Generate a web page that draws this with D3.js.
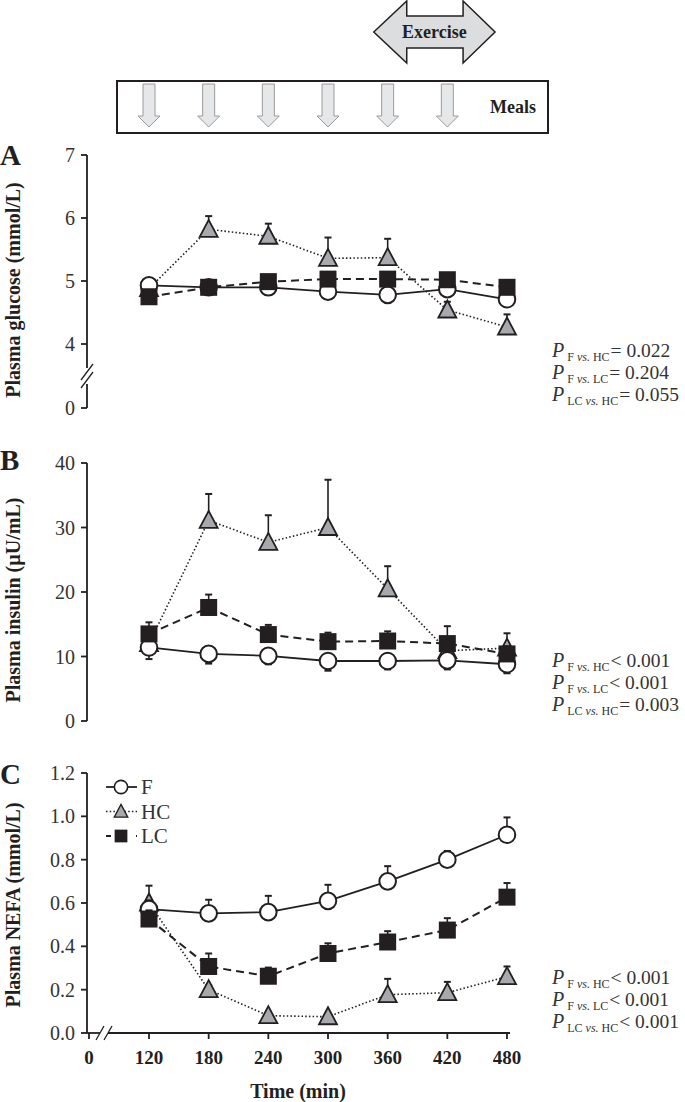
<!DOCTYPE html>
<html>
<head>
<meta charset="utf-8">
<script src="https://cdn.jsdelivr.net/npm/d3@7"></script>
<style>
  body { margin: 0; background: #fff; }
  svg { display: block; font-family: "Liberation Serif", "Times New Roman", serif; }
</style>
</head>
<body>
<div id="chart"></div>
<script>
// time points (min)
const times = [120, 180, 240, 300, 360, 420, 480];
const mealTimes = [120, 180, 240, 300, 360, 420];
const exerciseWindow = [346, 468];
const xTicks = [0, 120, 180, 240, 300, 360, 420, 480];

// A: plasma glucose (mmol/L)
const glucoseF = [4.93, 4.90, 4.90, 4.83, 4.78, 4.87, 4.71];
const glucoseHC = [4.88, 5.82, 5.71, 5.36, 5.37, 4.54, 4.27];
const glucoseLC = [4.75, 4.90, 4.99, 5.03, 5.03, 5.02, 4.90];
const glucoseSemF = [0.05, 0.05, 0.05, 0.05, 0.05, 0.05, 0.05];
const glucoseSemHC = [0.02, 0.21, 0.2, 0.33, 0.3, 0.13, 0.2];
const glucoseSemLC = [0.05, 0.05, 0.05, 0.05, 0.05, 0.05, 0.05];
const glucoseTicks = [0, 4, 5, 6, 7];
const glucoseP = ["= 0.022", "= 0.204", "= 0.055"];

// B: plasma insulin (µU/mL)
const insulinF = [11.4, 10.4, 10.1, 9.3, 9.3, 9.4, 8.8];
const insulinHC = [12.0, 31.1, 27.7, 30.0, 20.5, 10.9, 11.3];
const insulinLC = [13.5, 17.6, 13.4, 12.3, 12.4, 12.0, 10.4];
const insulinSemF = [1.8, 1.5, 1.3, 1.5, 1.3, 1.4, 1.4];
const insulinSemHC = [1.0, 4.1, 4.2, 7.4, 3.5, 1.0, 2.3];
const insulinSemLC = [1.8, 2.0, 1.5, 1.4, 1.5, 2.7, 1.2];
const insulinTicks = [0, 10, 20, 30, 40];
const insulinP = ["< 0.001", "< 0.001", "= 0.003"];

// C: plasma NEFA (mmol/L)
const nefaF = [0.572, 0.552, 0.558, 0.61, 0.70, 0.80, 0.915];
const nefaHC = [0.60, 0.20, 0.08, 0.075, 0.177, 0.186, 0.26];
const nefaLC = [0.526, 0.307, 0.262, 0.367, 0.42, 0.475, 0.627];
const nefaSemF = [0.04, 0.063, 0.075, 0.074, 0.07, 0.04, 0.08];
const nefaSemHC = [0.08, 0.02, 0.01, 0.01, 0.073, 0.05, 0.047];
const nefaSemLC = [0.04, 0.06, 0.04, 0.047, 0.05, 0.055, 0.065];
const nefaTicks = [0, 0.2, 0.4, 0.6, 0.8, 1.0, 1.2];
const nefaP = ["< 0.001", "< 0.001", "< 0.001"];

const groups = ["F", "HC", "LC"];
const comparisons = [["F", "HC"], ["F", "LC"], ["LC", "HC"]];

const width = 685, height = 1102;
const ink = "#231f20";

const svg = d3.select("#chart").append("svg")
  .attr("width", width).attr("height", height);

const x = d3.scaleLinear().domain([0, 120, 480]).range([89, 149, 507]);

const style = {
  F:  { dash: null, width: 1.8 },
  HC: { dash: "1.5,2.2", width: 1.6 },
  LC: { dash: "8,5", width: 2 }
};

function marker(g, name, cx, cy) {
  if (name === "F") {
    g.append("circle").attr("cx", cx).attr("cy", cy).attr("r", 8.3)
      .attr("fill", "#fff").attr("stroke", ink).attr("stroke-width", 2);
  } else if (name === "HC") {
    const w = 9, h = 8.5;
    g.append("path")
      .attr("d", `M${cx},${cy - h - 1}L${cx + w},${cy + h - 1}L${cx - w},${cy + h - 1}Z`)
      .attr("fill", "#a7a9ac").attr("stroke", ink).attr("stroke-width", 1.8)
      .attr("stroke-linejoin", "miter");
  } else {
    g.append("rect").attr("x", cx - 8.5).attr("y", cy - 8.5)
      .attr("width", 17).attr("height", 17).attr("fill", ink);
  }
}

function panel(opts) {
  const g = svg.append("g");
  const y = opts.y;

  // y axis
  const [y0, y1] = [y.range()[0], y.range()[y.range().length - 1]];
  if (opts.yBreak) {
    const b = opts.yBreak;
    g.append("line").attr("x1", 87).attr("x2", 87).attr("y1", y1).attr("y2", b - 8)
      .attr("stroke", ink).attr("stroke-width", 1.8);
    g.append("line").attr("x1", 87).attr("x2", 87).attr("y1", b + 8).attr("y2", y0)
      .attr("stroke", ink).attr("stroke-width", 1.8);
    [-4, 4].forEach(o => g.append("line")
      .attr("x1", 81).attr("y1", b + 8 + o).attr("x2", 93).attr("y2", b - 8 + o)
      .attr("stroke", ink).attr("stroke-width", 1.3));
  } else {
    g.append("line").attr("x1", 87).attr("x2", 87).attr("y1", y1).attr("y2", y0)
      .attr("stroke", ink).attr("stroke-width", 1.8);
  }
  opts.ticks.forEach(t => {
    g.append("line").attr("x1", 81).attr("x2", 87).attr("y1", y(t)).attr("y2", y(t))
      .attr("stroke", ink).attr("stroke-width", 1.8);
    g.append("text").attr("x", 75).attr("y", y(t)).attr("dy", "0.35em")
      .attr("text-anchor", "end").attr("font-size", 20).attr("fill", "#333")
      .text(opts.fmt(t));
  });

  // y label and panel letter
  g.append("text")
    .attr("transform", `translate(20,${opts.labelY}) rotate(-90)`)
    .attr("text-anchor", "middle").attr("font-size", 20).attr("font-weight", "bold")
    .attr("fill", ink).text(opts.label);
  g.append("text").attr("x", 0).attr("y", opts.letterY)
    .attr("font-size", 29).attr("font-weight", "bold").attr("fill", ink).text(opts.letter);

  // series
  const order = ["HC", "F", "LC"];
  const lineGen = d3.line().x(d => x(d[0])).y(d => y(d[1]));
  order.forEach(name => {
    const s = opts.series[name];
    const pts = times.map((t, i) => [t, s.values[i]]);
    g.append("path").datum(pts).attr("d", lineGen)
      .attr("fill", "none").attr("stroke", ink)
      .attr("stroke-width", style[name].width)
      .attr("stroke-dasharray", style[name].dash);
  });
  order.forEach(name => {
    const s = opts.series[name];
    const sg = g.append("g");
    times.forEach((t, i) => {
      const v = s.values[i], e = s.sem[i] * s.dir;
      sg.append("line").attr("x1", x(t)).attr("x2", x(t))
        .attr("y1", y(v)).attr("y2", y(v + e)).attr("stroke", ink).attr("stroke-width", 1.6);
      sg.append("line").attr("x1", x(t) - 3.5).attr("x2", x(t) + 3.5)
        .attr("y1", y(v + e)).attr("y2", y(v + e)).attr("stroke", ink).attr("stroke-width", 2);
    });
    times.forEach((t, i) => marker(sg, name, x(t), y(s.values[i])));
  });

  // p values: P, subscript and value as separate texts laid out in sequence
  opts.p.forEach((p, i) => {
    const ty = opts.pY + i * 22;
    let cx = 552;
    const pt = g.append("text").attr("x", cx).attr("y", ty).attr("fill", "#333")
      .attr("font-style", "italic").attr("font-size", 20).text("P");
    cx += pt.node().getComputedTextLength() + 3;
    const sub = g.append("text").attr("x", cx).attr("y", ty + 4).attr("fill", "#333")
      .attr("font-size", 12);
    sub.append("tspan").text(comparisons[i][0] + " ");
    sub.append("tspan").attr("font-style", "italic").text("vs.");
    sub.append("tspan").text(" " + comparisons[i][1]);
    cx += sub.node().getComputedTextLength() + 1;
    g.append("text").attr("x", cx).attr("y", ty).attr("fill", "#333")
      .attr("font-size", 19.5).text(p);
  });
  return g;
}

// A
panel({
  y: d3.scaleLinear().domain([0, 4, 7]).range([408, 344, 155]),
  yBreak: 376,
  ticks: glucoseTicks, fmt: d3.format("d"),
  label: "Plasma glucose (mmol/L)", labelY: 290, letter: "A", letterY: 165,
  series: {
    F: { values: glucoseF, sem: glucoseSemF, dir: -1 },
    HC: { values: glucoseHC, sem: glucoseSemHC, dir: 1 },
    LC: { values: glucoseLC, sem: glucoseSemLC, dir: 1 }
  },
  p: glucoseP, pY: 357
});

// B
panel({
  y: d3.scaleLinear().domain([0, 40]).range([721, 463]),
  ticks: insulinTicks, fmt: d3.format("d"),
  label: "Plasma insulin (µU/mL)", labelY: 600, letter: "B", letterY: 470,
  series: {
    F: { values: insulinF, sem: insulinSemF, dir: -1 },
    HC: { values: insulinHC, sem: insulinSemHC, dir: 1 },
    LC: { values: insulinLC, sem: insulinSemLC, dir: 1 }
  },
  p: insulinP, pY: 667
});

// C
const yC = d3.scaleLinear().domain([0, 1.2]).range([1033, 773]);
const gC = panel({
  y: yC,
  ticks: nefaTicks, fmt: d3.format(".1f"),
  label: "Plasma NEFA (mmol/L)", labelY: 905, letter: "C", letterY: 784,
  series: {
    F: { values: nefaF, sem: nefaSemF, dir: 1 },
    HC: { values: nefaHC, sem: nefaSemHC, dir: 1 },
    LC: { values: nefaLC, sem: nefaSemLC, dir: 1 }
  },
  p: nefaP, pY: 984
});

// x axis (panel C) with break
gC.append("line").attr("x1", 87).attr("x2", 100).attr("y1", 1033).attr("y2", 1033)
  .attr("stroke", ink).attr("stroke-width", 1.8);
gC.append("line").attr("x1", 108).attr("x2", 510).attr("y1", 1033).attr("y2", 1033)
  .attr("stroke", ink).attr("stroke-width", 1.8);
[-4, 4].forEach(o => gC.append("line")
  .attr("x1", 100 + o).attr("y1", 1040).attr("x2", 108 + o).attr("y2", 1026)
  .attr("stroke", ink).attr("stroke-width", 1.3));
xTicks.forEach(t => {
  gC.append("line").attr("x1", x(t)).attr("x2", x(t)).attr("y1", 1033).attr("y2", 1039)
    .attr("stroke", ink).attr("stroke-width", 1.8);
  gC.append("text").attr("x", x(t)).attr("y", 1064).attr("text-anchor", "middle")
    .attr("font-size", 19).attr("font-weight", "bold").attr("fill", ink).text(t);
});
gC.append("text").attr("x", 298).attr("y", 1098).attr("text-anchor", "middle")
  .attr("font-size", 20).attr("font-weight", "bold").attr("fill", ink).text("Time (min)");

// legend
groups.forEach((name, i) => {
  const ly = 787 + i * 24.5;
  gC.append("line").attr("x1", 106).attr("x2", 137).attr("y1", ly).attr("y2", ly)
    .attr("stroke", ink).attr("stroke-width", style[name].width)
    .attr("stroke-dasharray", name === "LC" ? "5,10" : style[name].dash);
  const s = name === "F" ? 0.8 : 0.75;
  const mg = gC.append("g").attr("transform", `translate(121,${ly}) scale(${s})`);
  marker(mg, name, 0, 0);
  gC.append("text").attr("x", 141).attr("y", ly).attr("dy", "0.35em")
    .attr("font-size", 21).attr("fill", "#333").text(name);
});

// top schematic: meals box and arrows
svg.append("rect").attr("x", 117).attr("y", 81).attr("width", 431).attr("height", 52)
  .attr("fill", "#fff").attr("stroke", ink).attr("stroke-width", 2);
mealTimes.forEach(t => {
  const cx = x(t);
  svg.append("path")
    .attr("d", `M${cx - 6},84L${cx + 6},84L${cx + 6},116L${cx + 11},116L${cx},127L${cx - 11},116L${cx - 6},116Z`)
    .attr("fill", "#e6e7e8").attr("stroke", "#9a9a9a").attr("stroke-width", 1);
});
svg.append("text").attr("x", 536).attr("y", 107).attr("dy", "0.35em")
  .attr("text-anchor", "end").attr("font-size", 18).attr("font-weight", "bold")
  .attr("fill", ink).text("Meals");

// exercise double arrow
const ex0 = x(exerciseWindow[0]), ex1 = x(exerciseWindow[1]);
const ecy = 32;
svg.append("path")
  .attr("d", `M${ex0},${ecy}L${ex0 + 33},${ecy - 31}L${ex0 + 33},${ecy - 16}L${ex1 - 32},${ecy - 16}` +
    `L${ex1 - 32},${ecy - 31}L${ex1},${ecy}L${ex1 - 32},${ecy + 31}L${ex1 - 32},${ecy + 16}` +
    `L${ex0 + 33},${ecy + 16}L${ex0 + 33},${ecy + 31}Z`)
  .attr("fill", "#dcddde").attr("stroke", ink).attr("stroke-width", 1.5);
svg.append("text").attr("x", (ex0 + ex1) / 2).attr("y", ecy).attr("dy", "0.35em")
  .attr("text-anchor", "middle").attr("font-size", 18).attr("font-weight", "bold")
  .attr("fill", ink).text("Exercise");
</script>
</body>
</html>
